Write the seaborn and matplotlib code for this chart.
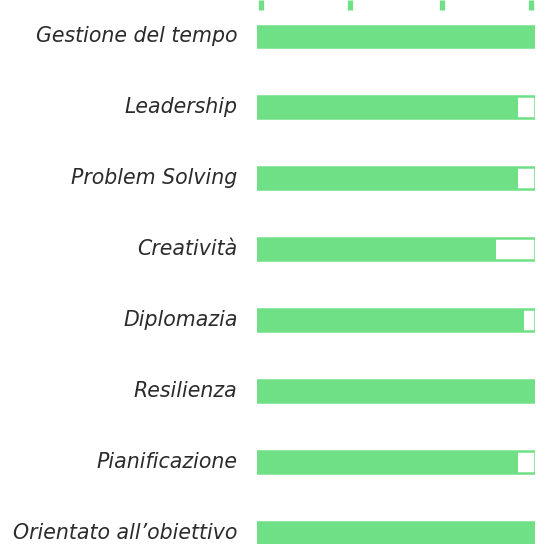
import matplotlib
matplotlib.use("Agg")
import matplotlib.pyplot as plt
import matplotlib.transforms as mtransforms
import seaborn as sns
import pandas as pd

# Skills and their levels (percent)
skills = ["Gestione del tempo", "Leadership", "Problem Solving", "Creatività",
          "Diplomazia", "Resilienza", "Pianificazione", "Orientato all\u2019obiettivo"]
levels = [100, 94, 94, 86, 96, 100, 94, 100]
full = [100] * len(skills)

green = "#6fe085"

df = pd.DataFrame({"skill": skills, "level": levels, "full": full})

sns.set_style("white")
plt.rcParams["font.family"] = ["DejaVu Sans"]

fig = plt.figure(figsize=(5.42, 5.44), dpi=100)
ax = fig.add_axes([257 / 542, 0, 278 / 542, 1])

# track (white with green border) then the filled part
sns.barplot(data=df, x="full", y="skill", orient="h", color="white",
            edgecolor=green, linewidth=1.8, width=0.31, ax=ax)
sns.barplot(data=df, x="level", y="skill", orient="h", color=green,
            edgecolor=green, linewidth=0, width=0.31, saturation=1, ax=ax)

ax.set_xlim(0, 100)
ax.set_ylim(7.162, -0.515)
ax.set_xlabel("")
ax.set_ylabel("")
sns.despine(ax=ax, left=True, bottom=True, top=True, right=True)

ax.xaxis.tick_top()
ax.set_xticks([1.5, 33.3, 66.5, 98.5])
ax.tick_params(axis="x", direction="in", length=7.5, width=3.8, color=green,
               labeltop=False, top=True)
ax.tick_params(axis="y", length=0, pad=14, labelsize=14.8, labelcolor="#2b2b2b")
shift = mtransforms.ScaledTranslation(0, 2 / 100, fig.dpi_scale_trans)
for lab in ax.get_yticklabels():
    lab.set_fontstyle("oblique")
    lab.set_transform(lab.get_transform() + shift)

fig.savefig("out.png", dpi=100)
